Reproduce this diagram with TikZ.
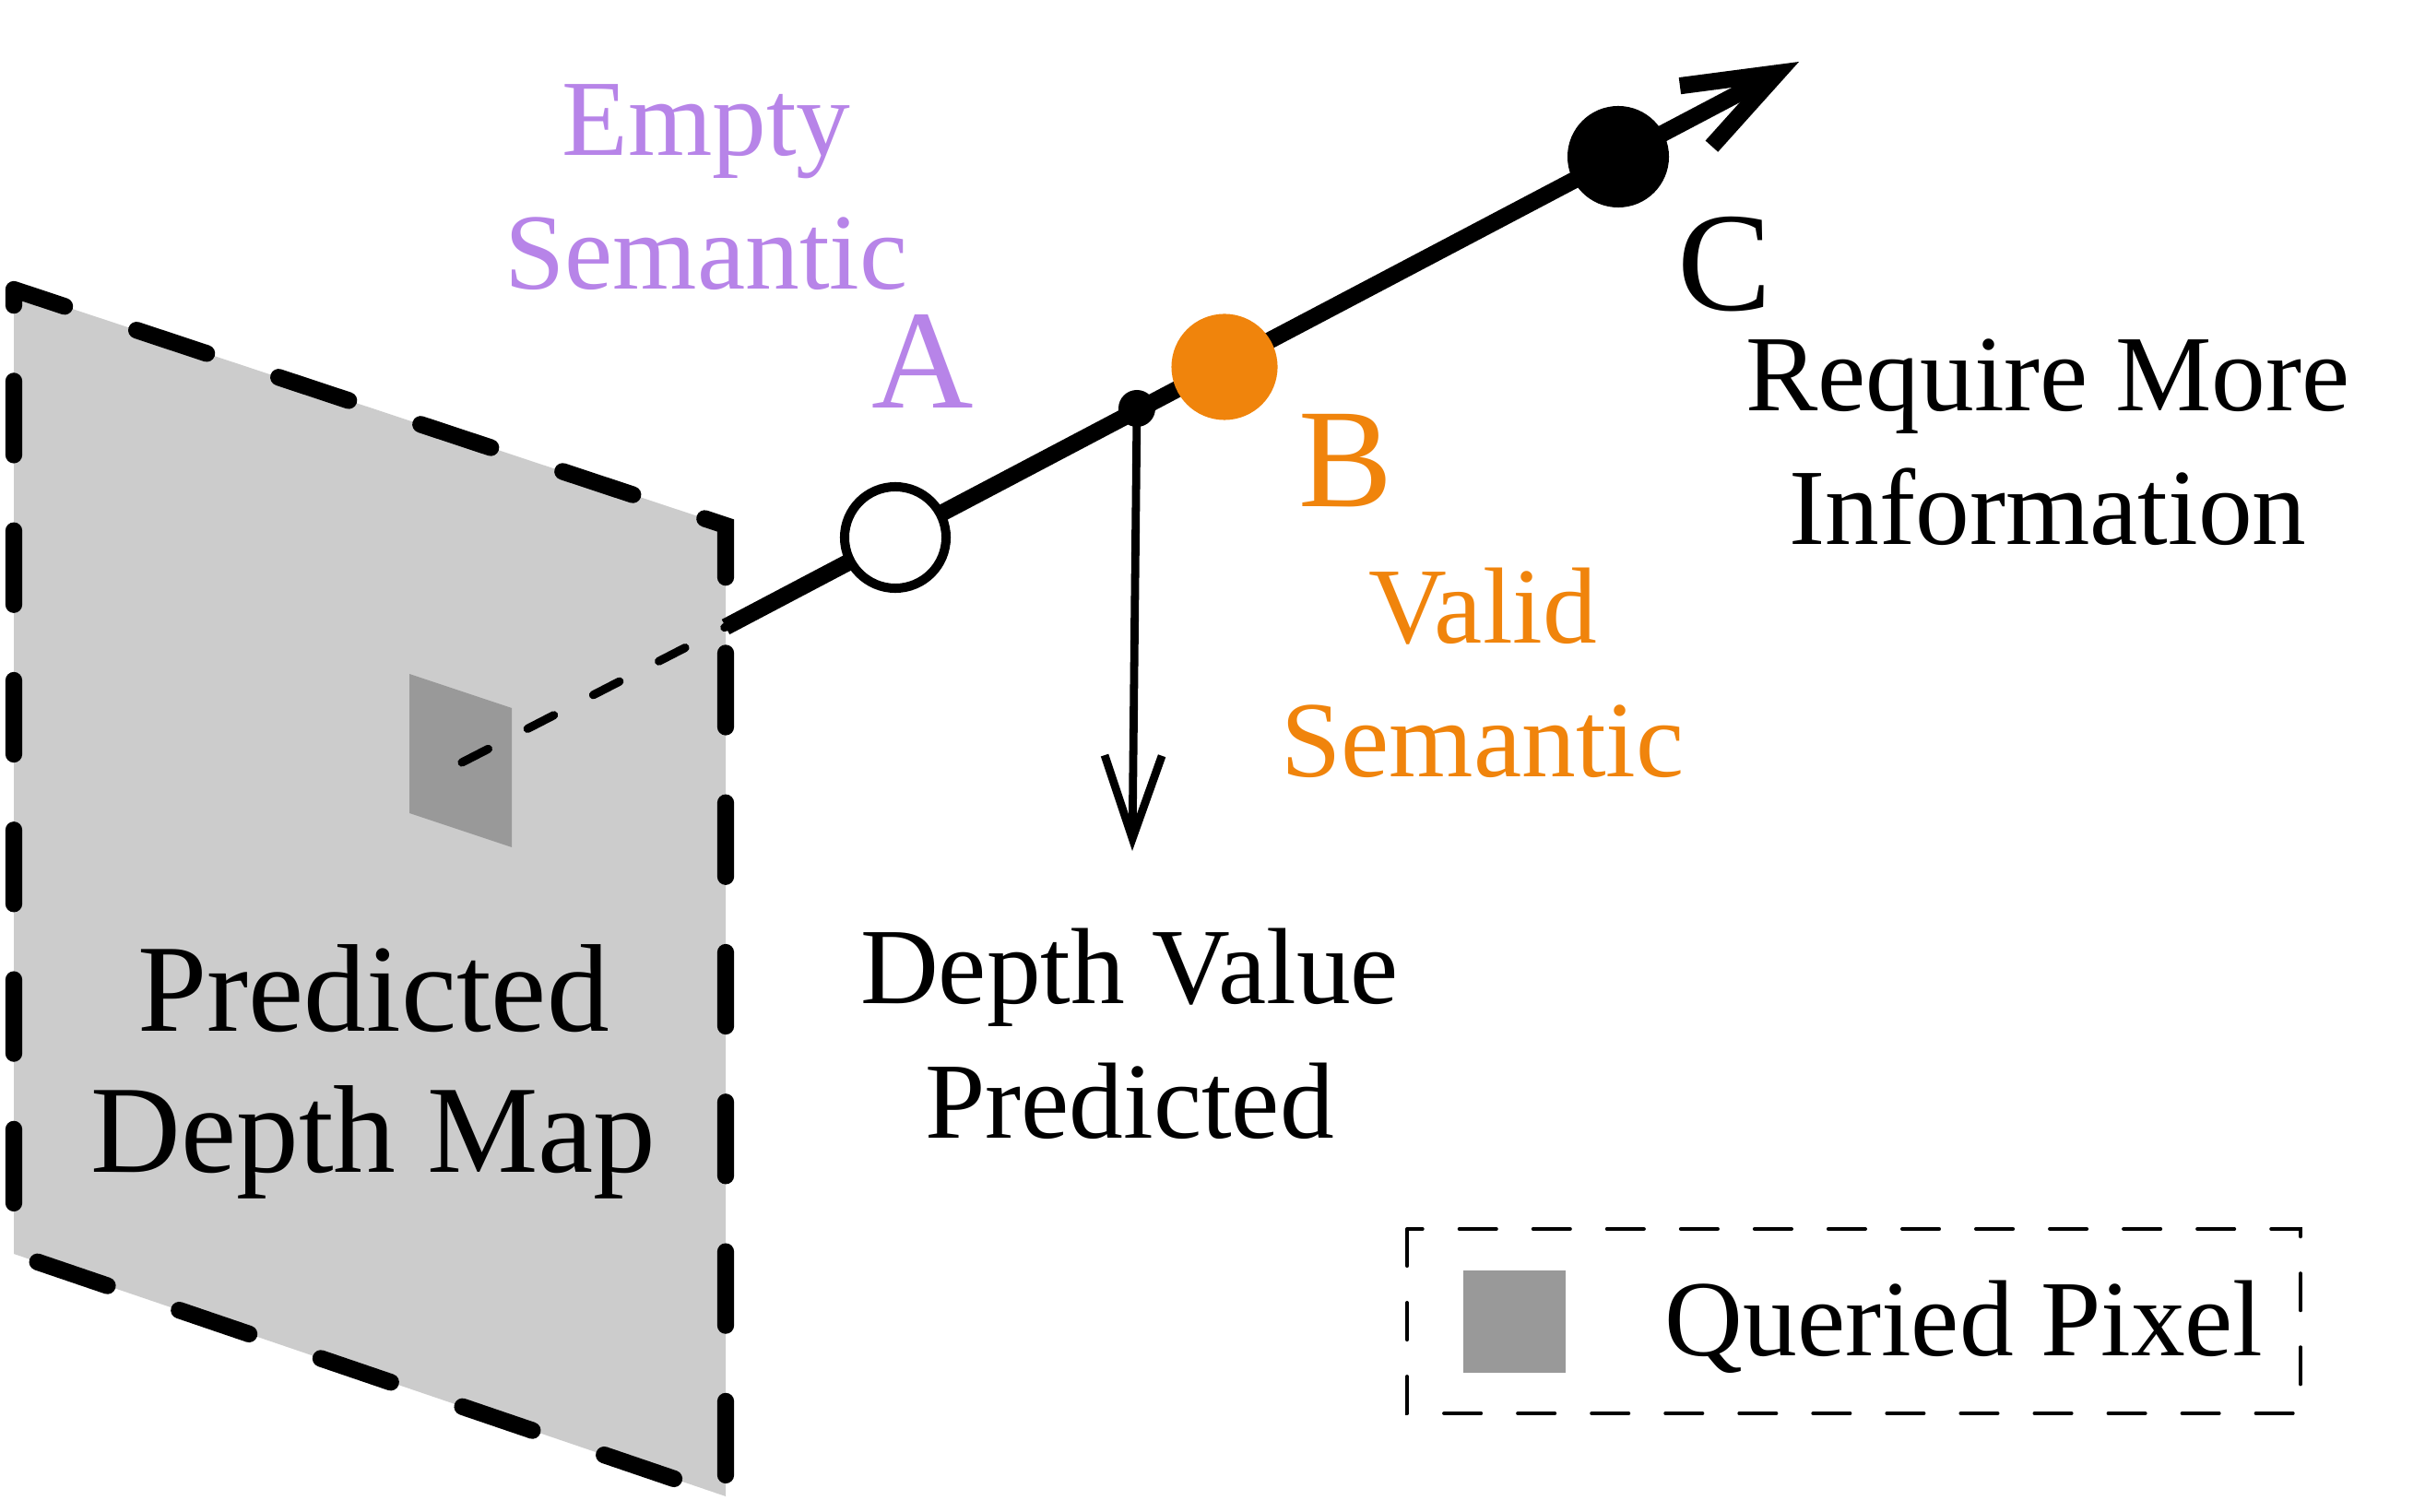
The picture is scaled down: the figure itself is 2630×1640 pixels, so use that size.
\documentclass[tikz,border=0pt]{standalone}
\usepackage{fontspec}
\setmainfont{Liberation Serif}
\usetikzlibrary{arrows.meta}
\definecolor{emptypurple}{HTML}{B784E8}
\definecolor{validorange}{HTML}{F0840C}
\definecolor{mapgray}{HTML}{CCCCCC}
\definecolor{pixelgray}{HTML}{999999}
\tikzset{
  text label/.style={font=\fontsize{33.4}{41.5}\selectfont,align=center,anchor=base,inner sep=0pt},
  point label/.style={font=\fontsize{43.5}{50}\selectfont,anchor=base,inner sep=0pt},
  ray point/.style={circle,inner sep=0pt,minimum size=1.12cm}
}
\begin{document}
\begin{tikzpicture}[x=0.01cm,y=-0.01cm]
        \useasboundingbox (0,0) rectangle (2630,1640);
        \coordinate (map tl) at (15,314);
        \coordinate (map tr) at (787,570);
        \coordinate (map br) at (787,1623);
        \coordinate (map bl) at (15,1360);
        \coordinate (ray start) at (787,680);
        \coordinate (ray end) at (1951,67);
        \coordinate (pixel) at (501,827);
        \coordinate (depth tip) at (1228,923);
        \filldraw
          [fill=mapgray,line width=5.2pt,line cap=round,
           dash pattern=on 0.8cm off 0.822cm,dash phase=0.22cm]
          (map tl) -- (map tr) -- (map br) -- (map bl) -- cycle
        ;
        \fill
          [pixelgray]
          (444,731) -- (555,768) -- (555,919) -- (444,882) -- cycle
        ;
        \node (map label) [text label,font=\fontsize{38.5}{43.4}\selectfont] at (405,1271)
          {Predicted\\Depth Map};
        \draw
          [line width=2.6pt,line cap=round,dash pattern=on 0.32cm off 0.48cm]
          (pixel) -- (ray start)
        ;
        \draw [line width=5.2pt,-{Straight Barb[length=1.0cm,width=0.74cm,sharp]}]
          (ray start) -- (ray end)
        ;
        \node (point A) [ray point,draw,line width=2.85pt,fill=white,minimum size=1.1cm] at (971,583) {};
        \node (point B) [ray point,fill=validorange,minimum size=1.15cm] at (1328,398) {};
        \node (point C) [ray point,fill=black,minimum size=1.1cm] at (1755,170) {};
        \node (depth dot) [circle,fill=black,inner sep=0pt,minimum size=0.4cm] at (1233,443) {};
        \draw [line width=2.5pt,-{Straight Barb[length=0.9cm,width=0.62cm,sharp]}]
          (depth dot.center) -- (depth tip)
        ;
        \node (label A) [point label,text=emptypurple] at (1001,443) {A};
        \node (label B) [point label,text=validorange] at (1459,550) {B};
        \node (label C) [point label] at (1870,337) {C};
        \node (empty label) [text label,text=emptypurple] at (766,314) {Empty\\Semantic};
        \node (valid label) [text label,text=validorange] at (1608,843) {Valid\\Semantic};
        \node (more label) [text label] at (2221,591) {Require More\\Information};
        \node (depth label) [text label] at (1225,1234) {Depth Value\\Predicted};
        \draw
          [line width=1.15pt,line cap=round,dash pattern=on 0.4cm off 0.4cm]
          (1526,1333) rectangle (2495,1533)
        ;
        \fill [pixelgray] (1587,1378) rectangle (1698,1489);
        \node (legend label) [text label] at (2130,1470) {Queried Pixel};
      \end{tikzpicture}
\end{document}
